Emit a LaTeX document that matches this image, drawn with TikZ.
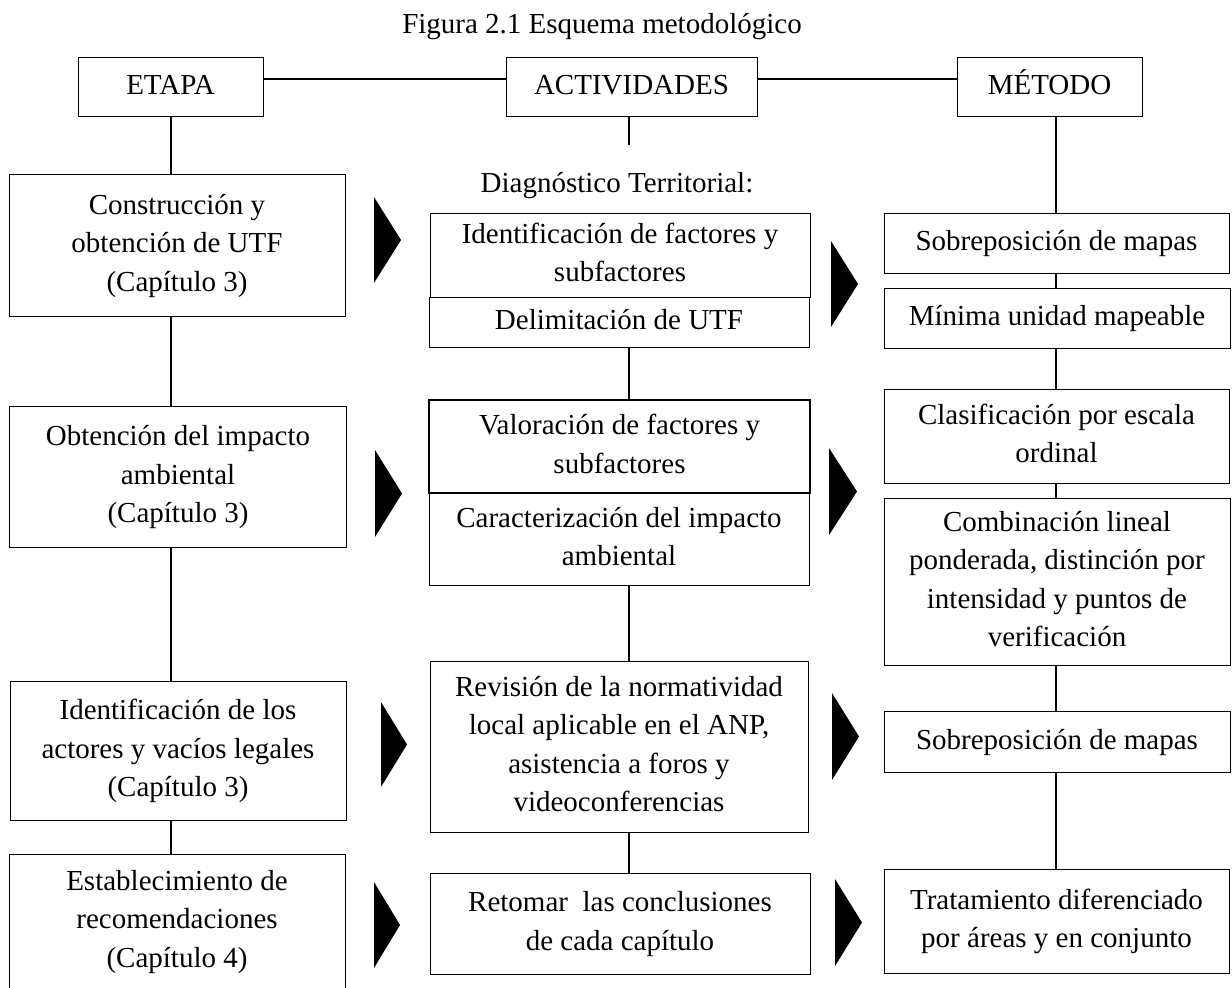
\documentclass[tikz,border=0pt]{standalone}
\usepackage{fontspec}
\setmainfont{Liberation Serif}
\newcommand\bodyfont{\fontsize{29}{38.5}\selectfont}
\newcommand\ls{\strut}
\begin{document}
\begin{tikzpicture}[x=1pt,y=-1pt,
  box/.style={draw, line width=1pt, align=center, inner sep=0pt, font=\bodyfont},
  thickbox/.style={box, line width=2pt},
  link/.style={line width=1.4pt},
  tri/.style={fill=black}]
\useasboundingbox (0,0) rectangle (1232,988);

\node[font=\bodyfont, anchor=base] (title) at (602,33) {Figura 2.1 Esquema metodológico};

% headers
\node[box, minimum width=185pt, minimum height=59pt] (etapa) at (170.5,86.5) {\ls ETAPA};
\node[box, minimum width=251pt, minimum height=59pt] (act) at (631.5,86.5) {\ls ACTIVIDADES};
\node[box, minimum width=185pt, minimum height=59pt] (met) at (1049.5,86.5) {\ls MÉTODO};

% left column
\node[box, minimum width=336pt, minimum height=142pt] (b1) at (177,245) {\ls Construcción y\\\ls obtención de UTF\\\ls (Capítulo 3)};
\node[box, minimum width=337pt, minimum height=141pt] (b2) at (178,476.5) {\ls Obtención del impacto\\\ls ambiental\\\ls (Capítulo 3)};
\node[box, minimum width=336pt, minimum height=139pt] (b3) at (178,750.5) {\ls Identificación de los\\\ls actores y vacíos legales\\\ls (Capítulo 3)};
\node[box, minimum width=336pt, minimum height=134pt] (b4) at (177,921) {\ls Establecimiento de\\\ls recomendaciones\\\ls (Capítulo 4)};

% middle column
\node[font=\bodyfont, anchor=base] (diag) at (617,192) {Diagnóstico Territorial:};
\node[box, minimum width=380pt, minimum height=84pt] (m1) at (620,255) {\ls Identificación de factores y\\\ls subfactores};
\node[box, minimum width=380pt, minimum height=50pt] (m2) at (619,322) {\ls Delimitación de UTF};
\node[thickbox, minimum width=381pt, minimum height=93pt] (m3) at (619.5,446.5) {\ls Valoración de factores y\\\ls subfactores};
\node[box, minimum width=380pt, minimum height=92pt] (m4) at (619,539) {\ls Caracterización del impacto\\\ls ambiental};
\node[box, minimum width=378pt, minimum height=171pt] (m5) at (619,746.5) {\ls Revisión de la normatividad\\\ls local aplicable en el ANP,\\\ls asistencia a foros y\\\ls videoconferencias};
\node[box, minimum width=380pt, minimum height=101pt] (m6) at (620,923.5) {\ls Retomar\ \ las conclusiones\\\ls de cada capítulo};

% right column
\node[box, minimum width=345pt, minimum height=60pt] (r1) at (1056.5,243) {\ls Sobreposición de mapas};
\node[box, minimum width=346pt, minimum height=60pt] (r2) at (1057,318) {\ls Mínima unidad mapeable};
\node[box, minimum width=345pt, minimum height=94pt] (r3) at (1056.5,436) {\ls Clasificación por escala\\\ls ordinal};
\node[box, minimum width=346pt, minimum height=167pt] (r4) at (1057,581.5) {\ls Combinación lineal\\\ls ponderada, distinción por\\\ls intensidad y puntos de\\\ls verificación};
\node[box, minimum width=346pt, minimum height=61pt] (r5) at (1057,741.5) {\ls Sobreposición de mapas};
\node[box, minimum width=345pt, minimum height=104pt] (r6) at (1056.5,921) {\ls Tratamiento diferenciado\\\ls por áreas y en conjunto};

% column axes
\coordinate (lx) at (171,0);
\coordinate (mx) at (629,0);
\coordinate (rx) at (1056,0);
\coordinate (actend) at (629,145);

% header connectors
\draw[link] ([yshift=7.5pt]etapa.east) -- ([yshift=7.5pt]act.west);
\draw[link] ([yshift=7.5pt]act.east) -- ([yshift=7.5pt]met.west);

% left connectors
\draw[link] (lx |- etapa.south) -- (lx |- b1.north);
\draw[link] (lx |- b1.south) -- (lx |- b2.north);
\draw[link] (lx |- b2.south) -- (lx |- b3.north);
\draw[link] (lx |- b3.south) -- (lx |- b4.north);

% middle connectors
\draw[link] (mx |- act.south) -- (actend);
\draw[link] (mx |- m2.south) -- (mx |- m3.north);
\draw[link] (mx |- m4.south) -- (mx |- m5.north);
\draw[link] (mx |- m5.south) -- (mx |- m6.north);

% right connectors
\draw[link] (rx |- met.south) -- (rx |- r1.north);
\draw[link] (rx |- r1.south) -- (rx |- r2.north);
\draw[link] (rx |- r2.south) -- (rx |- r3.north);
\draw[link] (rx |- r3.south) -- (rx |- r4.north);
\draw[link] (rx |- r4.south) -- (rx |- r5.north);
\draw[link] (rx |- r5.south) -- (rx |- r6.north);

% black triangles
\fill[tri] (374,197) -- (401,240) -- (374,283) -- cycle;
\fill[tri] (831,241) -- (858,284) -- (831,327) -- cycle;
\fill[tri] (375,450) -- (402,493.5) -- (375,537) -- cycle;
\fill[tri] (829,448) -- (857,491.5) -- (829,535) -- cycle;
\fill[tri] (381,702) -- (407,744.5) -- (381,787) -- cycle;
\fill[tri] (832,693) -- (859,736.5) -- (832,780) -- cycle;
\fill[tri] (374,882) -- (400,925) -- (374,968) -- cycle;
\fill[tri] (835,879) -- (862,922.5) -- (835,966) -- cycle;
\end{tikzpicture}
\end{document}
